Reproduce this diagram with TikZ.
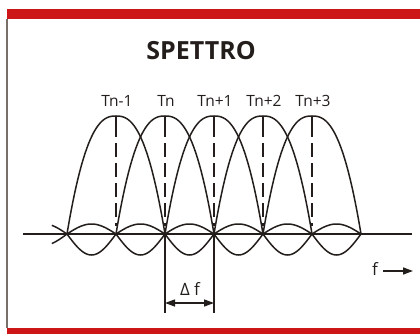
\documentclass[tikz,border=0pt]{standalone}
\usepackage{fontspec}
\setmainfont{Open Sans}
\usetikzlibrary{arrows.meta}
\definecolor{barred}{RGB}{204,22,24}
\definecolor{edgegray}{RGB}{120,112,104}
\definecolor{ink}{RGB}{35,30,28}
\tikzset{
  curve/.style={draw=ink,line width=1.5pt},
  dashline/.style={draw=ink,line width=1.3pt,dash pattern=on 14pt off 6pt},
  solidline/.style={draw=ink,line width=1.3pt},
  lbl/.style={text=ink,font=\fontsize{15.5}{15.5}\selectfont,inner sep=0pt,anchor=base},
  dimarrow/.style={draw=ink,line width=1.3pt,{Triangle[length=10pt,width=7pt]}-{Triangle[length=10pt,width=7pt]}},
  farrow/.style={draw=ink,line width=1.5pt,-{Triangle[length=10pt,width=7pt]}}
}
\begin{document}
\begin{tikzpicture}[x=1pt,y=-1pt]
\useasboundingbox (0,0) rectangle (420,334);
% frame
\fill[barred] (7,9) rectangle (420,19);
\fill[barred] (7,328) rectangle (420,334);
\draw[edgegray,line width=1.2pt] (7,19) -- (7,328);
% title
\node[text=ink,font=\fontsize{25}{25}\selectfont\bfseries,inner sep=0pt,anchor=base] (title) at (201,60) {SPETTRO};
% axis
\coordinate (axL) at (23,234);
\coordinate (axR) at (412,234);
\draw[solidline,line width=1.6pt] (axL) -- (axR);
% main lobes, dashed centre lines and labels
\foreach \k/\t in {0/Tn-1,1/Tn,2/Tn+1,3/Tn+2,4/Tn+3}{
  \pgfmathsetmacro{\c}{116+49*\k}
  \draw[curve] plot[domain=-1:1,samples=81,smooth] ({\c+49*\x},{234-118*(1-\x*\x*sqrt(abs(\x)))});
  \coordinate (top\k) at (\c,116);
  \coordinate (d\k) at (\c,137);
  \coordinate (e\k) at (\c,143);
  \coordinate (b\k) at (\c,226);
  \draw[solidline] (top\k) -- (d\k);
  \draw[dashline] (e\k) -- (b\k);
  \node[lbl] (lab\k) at (\c+1,106.5) {\t};
}
% side lobes
\foreach \k in {0,...,5}{
  \pgfmathsetmacro{\a}{67+49*\k}
  \draw[curve] plot[domain=0:1,samples=31,smooth] ({\a+49*\x},{234-10*sin(180*\x)});
  \draw[curve] plot[domain=0:1,samples=31,smooth] ({\a+49*\x},{234+21*sin(180*\x)});
}
% left extensions
\draw[curve] plot[domain=0:0.31,samples=15,smooth] ({67-49*\x},{234-10.5*sin(180*\x)});
\draw[curve] plot[domain=0:0.31,samples=15,smooth] ({67-49*\x},{234+11.5*sin(180*\x)});
% delta f
\coordinate (v1t) at (165,234);
\coordinate (v1b) at (165,313);
\coordinate (v2t) at (214,234);
\coordinate (v2b) at (214,313);
\draw[solidline] (v1t) -- (v1b);
\draw[solidline] (v2t) -- (v2b);
\coordinate (a1) at (165,303);
\coordinate (a2) at (214,303);
\draw[dimarrow] (a1) -- (a2);
\node[lbl,font=\fontsize{17}{17}\selectfont] (df) at (190,295) {Δ f};
% f arrow
\node[lbl,font=\fontsize{17}{17}\selectfont] (fl) at (375,275) {f};
\coordinate (f1) at (383,271);
\coordinate (f2) at (413,271);
\draw[farrow] (f1) -- (f2);
\end{tikzpicture}
\end{document}
